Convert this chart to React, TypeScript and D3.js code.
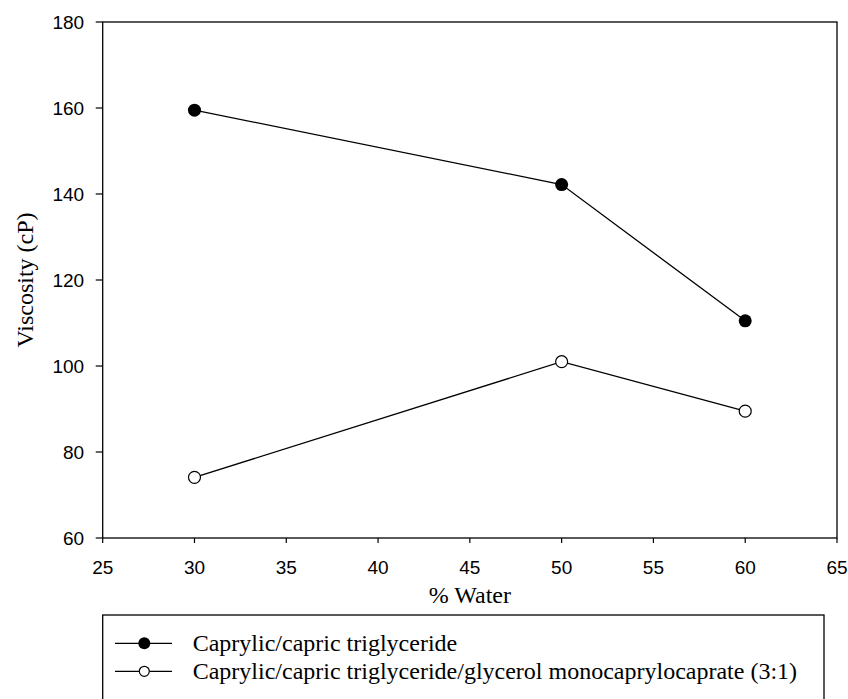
import React from "react";
import * as d3 from "d3";

const waterPct = [30, 50, 60];
const triglycerideViscosity = [159.5, 142.2, 110.5];
const mixtureViscosity = [74.1, 101.0, 89.5];
const xTicks = [25, 30, 35, 40, 45, 50, 55, 60, 65];
const yTicks = [60, 80, 100, 120, 140, 160, 180];
const seriesNames = [
  "Caprylic/capric triglyceride",
  "Caprylic/capric triglyceride/glycerol monocaprylocaprate (3:1)",
];

const W = 848;
const H = 699;
const M = { left: 102.7, right: 837, top: 22, bottom: 538 };

export default function App() {
  const x = d3.scaleLinear().domain([25, 65]).range([M.left, M.right]);
  const y = d3.scaleLinear().domain([60, 180]).range([M.bottom, M.top]);
  const line = d3
    .line<[number, number]>()
    .x((d) => x(d[0]))
    .y((d) => y(d[1]));
  const s1 = waterPct.map((w, i) => [w, triglycerideViscosity[i]] as [number, number]);
  const s2 = waterPct.map((w, i) => [w, mixtureViscosity[i]] as [number, number]);
  const serif = "'Times New Roman', 'Liberation Serif', serif";
  const sans = "Arial, 'Liberation Sans', sans-serif";

  return (
    <svg
      width={W}
      height={H}
      style={{ position: "absolute", left: 0, top: 0, background: "#fff" }}
    >
      <rect x={0} y={0} width={W} height={H} fill="#fff" />
      {/* frame */}
      <rect
        x={M.left}
        y={M.top}
        width={M.right - M.left}
        height={M.bottom - M.top}
        fill="none"
        stroke="#000"
        strokeWidth={1.3}
      />
      {/* y ticks */}
      {yTicks.map((t) => (
        <g key={"y" + t}>
          <line x1={M.left - 7} x2={M.left} y1={y(t)} y2={y(t)} stroke="#000" strokeWidth={1.2} />
          <text
            x={M.left - 18.5}
            y={y(t)}
            dy="0.35em"
            textAnchor="end"
            fontFamily={sans}
            fontSize={19}
          >
            {t}
          </text>
        </g>
      ))}
      {/* x ticks */}
      {xTicks.map((t) => (
        <g key={"x" + t}>
          <line x1={x(t)} x2={x(t)} y1={M.bottom} y2={M.bottom + 5} stroke="#000" strokeWidth={1.2} />
          <text
            x={x(t)}
            y={M.bottom + 35.5}
            textAnchor="middle"
            fontFamily={sans}
            fontSize={19}
          >
            {t}
          </text>
        </g>
      ))}
      <text
        x={(M.left + M.right) / 2}
        y={602.5}
        textAnchor="middle"
        fontFamily={serif}
        fontSize={24}
      >
        % Water
      </text>
      <text
        transform={`translate(32.5, ${(M.top + M.bottom) / 2}) rotate(-90)`}
        textAnchor="middle"
        fontFamily={serif}
        fontSize={24}
      >
        Viscosity (cP)
      </text>
      {/* series */}
      <path d={line(s1) || ""} fill="none" stroke="#000" strokeWidth={1.3} />
      <path d={line(s2) || ""} fill="none" stroke="#000" strokeWidth={1.3} />
      {s1.map((d, i) => (
        <circle key={"a" + i} cx={x(d[0])} cy={y(d[1])} r={6.5} fill="#000" />
      ))}
      {s2.map((d, i) => (
        <circle
          key={"b" + i}
          cx={x(d[0])}
          cy={y(d[1])}
          r={6}
          fill="#fff"
          stroke="#000"
          strokeWidth={1.2}
        />
      ))}
      {/* legend */}
      <rect
        x={102.7}
        y={615}
        width={824 - 102.7}
        height={100}
        fill="#fff"
        stroke="#000"
        strokeWidth={1.3}
      />
      {seriesNames.map((name, i) => {
        const cy = 643.3 + i * 28;
        return (
          <g key={"l" + i}>
            <line x1={115} x2={172} y1={cy} y2={cy} stroke="#000" strokeWidth={1.3} />
            {i === 0 ? (
              <circle cx={144.3} cy={cy} r={6} fill="#000" />
            ) : (
              <circle cx={144.3} cy={cy} r={5} fill="#fff" stroke="#000" strokeWidth={1.2} />
            )}
            <text x={192.7} y={cy + 7.7} fontFamily={serif} fontSize={24}>
              {name}
            </text>
          </g>
        );
      })}
    </svg>
  );
}
